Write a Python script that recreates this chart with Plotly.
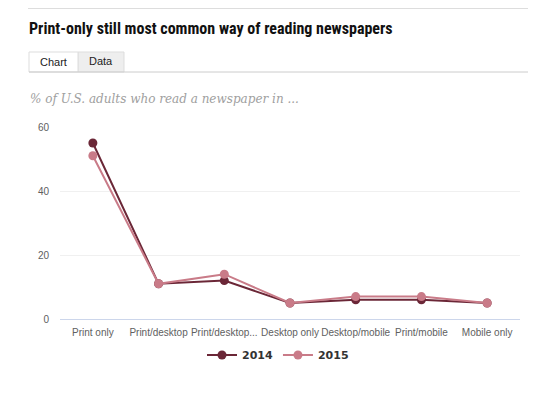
import plotly.graph_objects as go

categories = ["Print only", "Print/desktop", "Print/desktop...", "Desktop only",
              "Desktop/mobile", "Print/mobile", "Mobile only"]
values_2014 = [55, 11, 12, 5, 6, 6, 5]
values_2015 = [51, 11, 14, 5, 7, 7, 5]
y_ticks = [0, 20, 40, 60]

OFF = 8  # browser body margin
W, H = 557 - 2 * OFF, 397 - 2 * OFF
L, R, T, B = 60 - OFF, 520 - OFF, 127 - OFF, 319 - OFF


def px(x):
    # page pixel x -> paper
    return (x - OFF - L) / (R - L)


def py(y):
    # page pixel y -> paper
    return (B - (y - OFF)) / (B - T)


fig = go.Figure()
fig.add_trace(go.Scatter(x=categories, y=values_2014, name="<b>2014</b>", mode="lines+markers",
                         line=dict(color="#6b2737", width=2),
                         marker=dict(color="#6b2737", size=9)))
fig.add_trace(go.Scatter(x=categories, y=values_2015, name="<b>2015</b>", mode="lines+markers",
                         line=dict(color="#c97b88", width=2),
                         marker=dict(color="#c97b88", size=9)))

shapes = [
    dict(type="line", xref="paper", yref="paper", x0=px(28), x1=px(528), y0=py(8.5), y1=py(8.5),
         line=dict(color="#dddddd", width=1)),
    dict(type="rect", xref="paper", yref="paper", x0=px(78), x1=px(124), y0=py(72), y1=py(52),
         line=dict(color="#dddddd", width=1), fillcolor="#eeeeee"),
    dict(type="rect", xref="paper", yref="paper", x0=px(29), x1=px(78), y0=py(72), y1=py(52),
         line=dict(color="#dddddd", width=1), fillcolor="#ffffff"),
    dict(type="line", xref="paper", yref="paper", x0=px(29), x1=px(528), y0=py(72), y1=py(72),
         line=dict(color="#cccccc", width=1)),
]

annotations = [
    dict(text="<b>Print-only still most common way of reading newspapers</b>", xref="paper", yref="paper",
         x=px(27), y=py(29), xanchor="left", yanchor="middle", showarrow=False,
         font=dict(family="Liberation Sans Narrow, Roboto Condensed, Roboto, sans-serif", size=16, color="#111111")),
    dict(text="Chart", xref="paper", yref="paper", x=px(53.5), y=py(62), xanchor="center", yanchor="middle",
         showarrow=False, font=dict(family="Liberation Sans, Arial, sans-serif", size=11, color="#222222")),
    dict(text="Data", xref="paper", yref="paper", x=px(101), y=py(61), xanchor="center", yanchor="middle",
         showarrow=False, font=dict(family="Liberation Sans, Arial, sans-serif", size=11, color="#222222")),
    dict(text="<i>% of U.S. adults who read a newspaper in ...</i>", xref="paper", yref="paper",
         x=px(28), y=py(99), xanchor="left", yanchor="middle", showarrow=False,
         font=dict(family="DejaVu Serif, Georgia, serif", size=12, color="#a0a0a0")),
]

fig.update_layout(
    width=W, height=H,
    margin=dict(l=L, r=W - R, t=T, b=H - B),
    paper_bgcolor="white", plot_bgcolor="white",
    shapes=shapes, annotations=annotations,
    showlegend=True,
    legend=dict(orientation="h", x=px(278), xanchor="center", y=py(355), yanchor="middle",
                font=dict(family="DejaVu Sans, Verdana, sans-serif", size=11, color="#333333"),
                itemwidth=30, tracegroupgap=0, traceorder="normal"),
    xaxis=dict(showgrid=False, showline=True, linecolor="#ccd6eb", linewidth=1,
               ticks="", tickangle=0, ticklabelstandoff=4,
               tickfont=dict(family="Liberation Sans, Arial, sans-serif", size=10, color="#606060"),
               range=[-0.5, 6.5], fixedrange=True),
    yaxis=dict(range=[0, 60], tickvals=y_ticks, showgrid=True, gridcolor="#f0f0f0", gridwidth=1,
               zeroline=False, showline=False, ticks="",
               tickfont=dict(family="Liberation Sans, Arial, sans-serif", size=10, color="#606060"),
               ticklabelstandoff=10),
)

fig.write_html("out.html")
